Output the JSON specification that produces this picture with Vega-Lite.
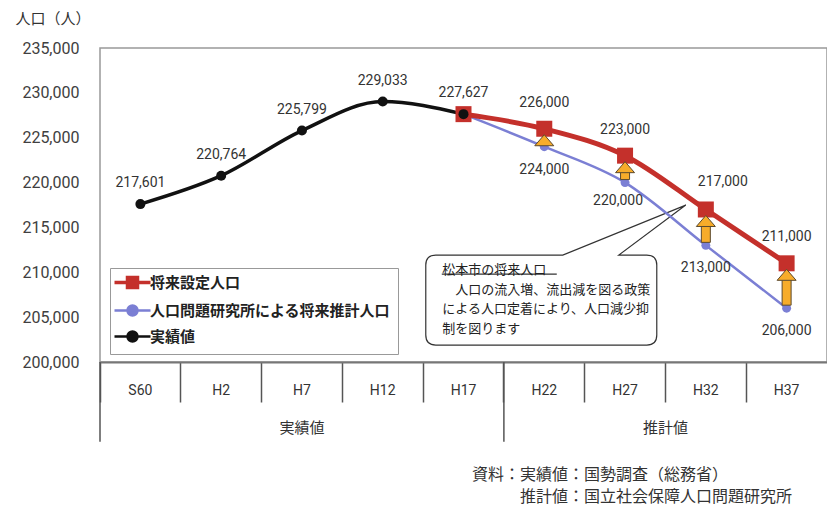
{
  "$schema": "https://vega.github.io/schema/vega-lite/v6.json",
  "width": 727,
  "height": 314,
  "autosize": {"type": "none"},
  "padding": {"left": 100, "top": 48, "right": 0, "bottom": 144},
  "background": "white",
  "config": {
    "view": {"stroke": "#999", "strokeWidth": 1.5},
    "axis": {"grid": false},
    "axisX": {
      "title": null, "orient": "bottom", "bandPosition": 0, "tickSize": 40, "tickColor": "#555", "tickWidth": 1.5,
      "labelPadding": -19, "labelFont": "Roboto", "labelFontSize": 14, "labelColor": "#333", "labelAngle": 0,
      "domainColor": "#777", "domainWidth": 2
    },
    "axisY": {
      "domain": false, "ticks": false, "labelPadding": 21, "labelFlush": false,
      "labelFont": "Roboto", "labelFontSize": 16, "labelColor": "#404040",
      "titleAngle": 0, "titleX": -85, "titleY": -30, "titleAlign": "left", "titleBaseline": "middle",
      "titleFont": "Noto Sans CJK JP", "titleFontSize": 15, "titleFontWeight": "normal", "titleColor": "#333"
    },
    "text": {"font": "Roboto"},
    "numberFormat": ","
  },
  "data": {"values": [
    {"period": "H17", "series": "人口問題研究所による将来推計人口", "value": 227627},
    {"period": "H22", "series": "人口問題研究所による将来推計人口", "value": 224000},
    {"period": "H27", "series": "人口問題研究所による将来推計人口", "value": 220000},
    {"period": "H32", "series": "人口問題研究所による将来推計人口", "value": 213000},
    {"period": "H37", "series": "人口問題研究所による将来推計人口", "value": 206000},
    {"period": "H17", "series": "将来設定人口", "value": 227627},
    {"period": "H22", "series": "将来設定人口", "value": 226000},
    {"period": "H27", "series": "将来設定人口", "value": 223000},
    {"period": "H32", "series": "将来設定人口", "value": 217000},
    {"period": "H37", "series": "将来設定人口", "value": 211000},
    {"period": "S60", "series": "実績値", "value": 217601},
    {"period": "H2", "series": "実績値", "value": 220764},
    {"period": "H7", "series": "実績値", "value": 225799},
    {"period": "H12", "series": "実績値", "value": 229033},
    {"period": "H17", "series": "実績値", "value": 227627}
  ]},
  "layer": [
    {
      "data": {"values": [{"note": "松本市の将来人口\n\u200b　人口の流入増、流出減を図る政策\nによる人口定着により、人口減少抑\n制を図ります"}]},
      "mark": {"type": "point", "filled": true, "size": 4, "fill": "white", "stroke": "#333", "strokeWidth": 1.2, "opacity": 1,
        "shape": "M-108.5,-45L18.5,-45L141.5,-95L74.5,-45L102.5,-45Q112.5,-45 112.5,-35L112.5,35Q112.5,45 102.5,45L-108.5,45Q-118.5,45 -118.5,35L-118.5,-35Q-118.5,-45 -108.5,-45ZM-102.5,-26H12.5"},
      "encoding": {
        "x": {"datum": "H22", "type": "nominal", "bandPosition": 0.5, "axis": {"title": null}},
        "y": {"datum": 206900, "type": "quantitative", "axis": {"title": "人口（人）", "values": [200000, 205000, 210000, 215000, 220000, 225000, 230000, 235000], "format": ",", "labelExpr": "format(datum.value, ',')"}}
      }
    },
    {
      "data": {"values": [{"note": "松本市の将来人口\n\u200b　人口の流入増、流出減を図る政策\nによる人口定着により、人口減少抑\n制を図ります"}]},
      "mark": {"type": "text", "align": "left", "baseline": "top", "dx": -102, "dy": -36, "lineBreak": "\n", "lineHeight": 19.5,
        "font": "Noto Sans CJK JP", "fontSize": 13, "color": "#222"},
      "encoding": {
        "x": {"datum": "H22", "type": "nominal", "bandPosition": 0.5, "axis": {"title": null}},
        "y": {"datum": 206900, "type": "quantitative", "axis": {"title": "人口（人）", "values": [200000, 205000, 210000, 215000, 220000, 225000, 230000, 235000], "format": ",", "labelExpr": "format(datum.value, ',')"}},
        "text": {"field": "note"}
      }
    },
    {
      "encoding": {
        "x": {
          "field": "period", "type": "nominal", "bandPosition": 0.5,
          "scale": {"type": "band", "domain": ["S60", "H2", "H7", "H12", "H17", "H22", "H27", "H32", "H37"], "paddingInner": 0, "paddingOuter": 0},
          "axis": {"title": null}
        },
        "y": {
          "field": "value", "type": "quantitative",
          "scale": {"domain": [200000, 235000], "nice": false, "zero": false},
          "axis": {"title": "人口（人）", "values": [200000, 205000, 210000, 215000, 220000, 225000, 230000, 235000], "format": ",", "labelExpr": "format(datum.value, ',')"}
        }
      },
      "layer": [
        {
          "transform": [{"filter": "datum.series === '人口問題研究所による将来推計人口'"}],
          "mark": {"type": "line", "strokeWidth": 2.5, "interpolate": "monotone"},
          "encoding": {
            "order": {"value": null},
            "color": {
              "field": "series", "type": "nominal",
              "scale": {"domain": ["将来設定人口", "人口問題研究所による将来推計人口", "実績値"], "range": ["#C4302B", "#7B7FD4", "#111111"]},
              "legend": {
                "orient": "none", "legendX": 10, "legendY": 220, "title": null,
                "fillColor": "white", "strokeColor": "#999", "padding": 7,
                "symbolSize": 400, "symbolOffset": 8, "labelOffset": 10, "rowPadding": 5,
                "labelFont": "Noto Sans CJK JP", "labelFontSize": 15, "labelFontWeight": "bold", "labelColor": "#222", "labelLimit": 400,
                "encode": {
                  "symbols": {
                    "update": {
                      "shape": {"signal": "datum.value === '将来設定人口' ? 'M-1.8,0H1.8M-0.5,-0.5H0.5V0.5H-0.5Z' : 'M-1.8,0H1.8M0.5,0A0.5,0.5 0 1,1 -0.5,0A0.5,0.5 0 1,1 0.5,0Z'"},
                      "fill": {"scale": "color", "field": "value"},
                      "stroke": {"scale": "color", "field": "value"},
                      "strokeWidth": {"signal": "datum.value === '将来設定人口' ? 3.5 : 2.5"},
                      "opacity": {"value": 1}
                    }
                  }
                }
              }
            }
          }
        },
        {
          "transform": [{"filter": "datum.series === '将来設定人口'"}],
          "mark": {"type": "line", "color": "#C4302B", "strokeWidth": 5, "interpolate": "monotone"},
          "encoding": {"order": {"value": null}}
        },
        {
          "transform": [{"filter": "datum.series === '実績値'"}],
          "mark": {"type": "line", "color": "#111", "strokeWidth": 3.5, "interpolate": "monotone"},
          "encoding": {"order": {"value": null}}
        },
        {
          "transform": [{"filter": "datum.series === '人口問題研究所による将来推計人口'"}],
          "mark": {"type": "point", "filled": true, "opacity": 1, "strokeWidth": 0, "shape": "circle", "size": 80, "color": "#7B7FD4"}
        },
        {
          "transform": [{"filter": "datum.series === '将来設定人口'"}],
          "mark": {"type": "point", "filled": true, "opacity": 1, "strokeWidth": 0, "shape": "square", "size": 256, "color": "#C4302B"}
        },
        {
          "transform": [{"filter": "datum.series === '実績値'"}],
          "mark": {"type": "point", "filled": true, "opacity": 1, "strokeWidth": 0, "shape": "circle", "size": 100, "color": "#111"}
        },
        {
          "transform": [
            {"filter": "datum.series !== '実績値' && datum.period !== 'H17'"},
            {"pivot": "series", "value": "value", "groupby": ["period"]}
          ],
          "mark": {"type": "bar", "width": 9, "fill": "#F7AC2A", "stroke": "#5C4A2E", "strokeWidth": 1, "yOffset": -3, "y2Offset": 12},
          "encoding": {
            "y": {"field": "人口問題研究所による将来推計人口", "type": "quantitative"},
            "y2": {"field": "将来設定人口"}
          }
        },
        {
          "transform": [
            {"filter": "datum.series !== '実績値' && datum.period !== 'H17'"},
            {"pivot": "series", "value": "value", "groupby": ["period"]}
          ],
          "mark": {"type": "point", "filled": true, "size": 4, "fill": "#F7AC2A", "stroke": "#5C4A2E", "strokeWidth": 1, "opacity": 1,
            "shape": "M-9.5,17L0,6L9.5,17Z"},
          "encoding": {
            "y": {"field": "将来設定人口", "type": "quantitative"}
          }
        },
        {
          "transform": [{"filter": "datum.series === '実績値'"}],
          "mark": {"type": "text", "dy": -21, "fontSize": 14, "color": "#333"},
          "encoding": {"text": {"field": "value", "type": "quantitative", "format": ","}}
        },
        {
          "transform": [{"filter": "datum.series === '将来設定人口' && datum.period !== 'H17' && datum.period !== 'H32'"}],
          "mark": {"type": "text", "dy": -26, "fontSize": 14, "color": "#333"},
          "encoding": {"text": {"field": "value", "type": "quantitative", "format": ","}}
        },
        {
          "transform": [{"filter": "datum.series === '将来設定人口' && datum.period === 'H32'"}],
          "mark": {"type": "text", "dx": 17, "dy": -27, "fontSize": 14, "color": "#333"},
          "encoding": {"text": {"field": "value", "type": "quantitative", "format": ","}}
        },
        {
          "transform": [{"filter": "datum.series === '人口問題研究所による将来推計人口' && datum.period !== 'H17' && datum.period !== 'H27'"}],
          "mark": {"type": "text", "dy": 23, "fontSize": 14, "color": "#333"},
          "encoding": {"text": {"field": "value", "type": "quantitative", "format": ","}}
        },
        {
          "transform": [{"filter": "datum.series === '人口問題研究所による将来推計人口' && datum.period === 'H27'"}],
          "mark": {"type": "text", "dx": -7, "dy": 18, "fontSize": 14, "color": "#333"},
          "encoding": {"text": {"field": "value", "type": "quantitative", "format": ","}}
        }
      ]
    },
    {
      "data": {"values": [{"group": "実績値", "first": "S60"}, {"group": "推計値", "first": "H22"}]},
      "mark": {"type": "rule", "stroke": "#555", "strokeWidth": 1.5},
      "encoding": {
        "x": {"field": "first", "type": "nominal", "bandPosition": 0, "axis": {"title": null}},
        "y": {"datum": 200000, "type": "quantitative", "axis": {"title": "人口（人）", "values": [200000, 205000, 210000, 215000, 220000, 225000, 230000, 235000], "format": ",", "labelExpr": "format(datum.value, ',')"}},
        "y2": {"datum": 191100}
      }
    },
    {
      "data": {"values": [{"group": "実績値"}]},
      "mark": {"type": "text", "dy": 66, "font": "Noto Sans CJK JP", "fontSize": 15, "color": "#333"},
      "encoding": {
        "x": {"datum": "H7", "type": "nominal", "bandPosition": 0.5, "axis": {"title": null}},
        "y": {"datum": 200000, "type": "quantitative", "axis": {"title": "人口（人）", "values": [200000, 205000, 210000, 215000, 220000, 225000, 230000, 235000], "format": ",", "labelExpr": "format(datum.value, ',')"}},
        "text": {"field": "group"}
      }
    },
    {
      "data": {"values": [{"group": "推計値"}]},
      "mark": {"type": "text", "dy": 66, "font": "Noto Sans CJK JP", "fontSize": 15, "color": "#333"},
      "encoding": {
        "x": {"datum": "H32", "type": "nominal", "bandPosition": 0, "axis": {"title": null}},
        "y": {"datum": 200000, "type": "quantitative", "axis": {"title": "人口（人）", "values": [200000, 205000, 210000, 215000, 220000, 225000, 230000, 235000], "format": ",", "labelExpr": "format(datum.value, ',')"}},
        "text": {"field": "group"}
      }
    },
    {
      "data": {"values": [{"source": "資料：実績値：国勢調査（総務省）\n\u200b　　　推計値：国立社会保障人口問題研究所"}]},
      "mark": {"type": "text", "align": "left", "baseline": "top", "dx": -32, "dy": 105, "lineBreak": "\n", "lineHeight": 22,
        "font": "Noto Sans CJK JP", "fontSize": 16, "color": "#333"},
      "encoding": {
        "x": {"datum": "H22", "type": "nominal", "bandPosition": 0, "axis": {"title": null}},
        "y": {"datum": 200000, "type": "quantitative", "axis": {"title": "人口（人）", "values": [200000, 205000, 210000, 215000, 220000, 225000, 230000, 235000], "format": ",", "labelExpr": "format(datum.value, ',')"}},
        "text": {"field": "source"}
      }
    }
  ]
}
